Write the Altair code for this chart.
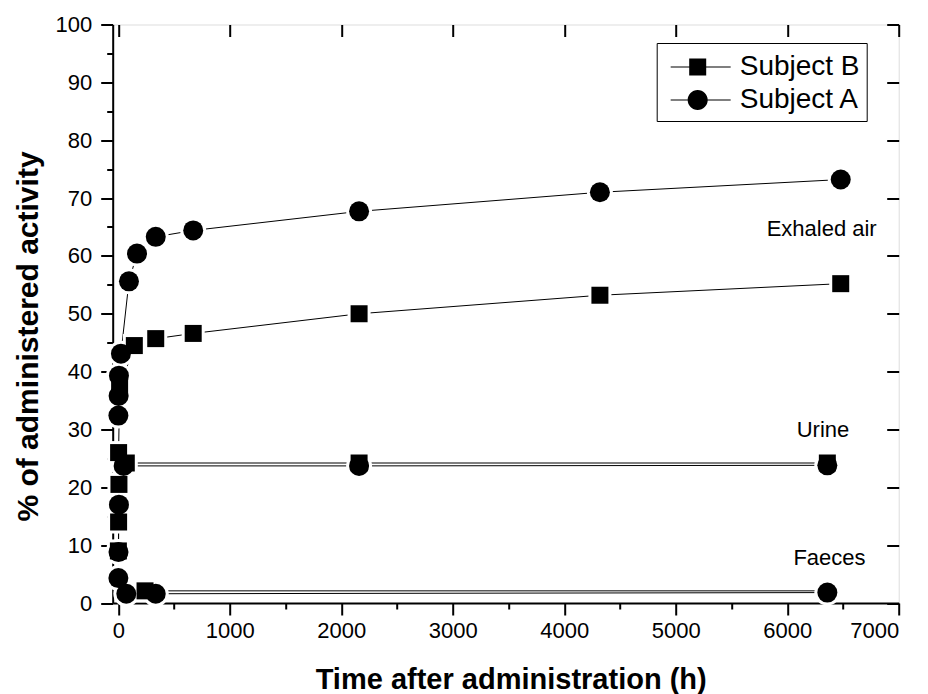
import altair as alt
import pandas as pd

# ---- data ----
subjects = ["Subject B", "Subject A"]

exh_A_t = [1, 3, 6, 24, 96, 168, 336, 672, 2160, 4320, 6480]
exh_A_v = [32.4, 35.8, 39.3, 43.1, 55.6, 60.4, 63.3, 64.4, 67.7, 71.0, 73.2]
exh_B_t = [3, 12, 144, 336, 672, 2160, 4320, 6480]
exh_B_v = [26.0, 37.2, 44.5, 45.7, 46.6, 50.0, 53.2, 55.2]

uri_A_t = [1, 2, 6, 48, 2160, 6360]
uri_A_v = [4.3, 8.8, 17.0, 23.7, 23.7, 23.8]
uri_B_t = [1, 3, 6, 72, 2160, 6360]
uri_B_v = [9.0, 14.0, 20.5, 24.2, 24.2, 24.2]

fae_A_t = [72, 336, 6360]
fae_A_v = [1.6, 1.6, 1.8]
fae_B_t = [240, 6360]
fae_B_v = [2.1, 2.1]
fae_B_marked = [True, False]   # last faeces point of B is hidden behind A's circle

ann_labels = ["Exhaled air", "Urine", "Faeces"]
ann_t = [6309, 6321, 6379]
ann_v = [63.4, 28.7, 6.6]

x_major = [0, 1000, 2000, 3000, 4000, 5000, 6000, 7000]
x_minor = [500, 1500, 2500, 3500, 4500, 5500, 6500]
y_major = list(range(0, 101, 10))
y_minor = list(range(5, 100, 10))

# ---- build tables ----
rows = []
def add(ts, vs, subj, comp, marked=None):
    if marked is None:
        marked = [True] * len(ts)
    for t, v, m in zip(ts, vs, marked):
        rows.append({"t": t, "v": v, "subject": subj, "comp": comp,
                     "series": subj + " " + comp, "marked": m})

add(exh_A_t, exh_A_v, "Subject A", "exhaled")
add(exh_B_t, exh_B_v, "Subject B", "exhaled")
add(uri_A_t, uri_A_v, "Subject A", "urine")
add(uri_B_t, uri_B_v, "Subject B", "urine")
add(fae_A_t, fae_A_v, "Subject A", "faeces")
add(fae_B_t, fae_B_v, "Subject B", "faeces", fae_B_marked)
df = pd.DataFrame(rows)
ann = pd.DataFrame({"label": ann_labels, "t": ann_t, "v": ann_v})

W, H = 786, 578.5
FONT = "Liberation Sans"

xs = alt.Scale(domain=[-50, 7000], nice=False, zero=False)
ys = alt.Scale(domain=[0, 100], nice=False, zero=False)
shape_scale = alt.Scale(domain=subjects, range=["square", "circle"])

common_axis = dict(grid=False, tickColor="black", tickWidth=2, domainColor="black",
                   domainWidth=2, labelColor="black", labelFont=FONT, labelFontSize=22,
                   titleFont=FONT, titleFontWeight="bold", titleColor="black")

x_main = alt.Axis(orient="bottom", values=x_major, tickSize=12, labelPadding=5,
                  format="d", title="Time after administration (h)", titleFontSize=29,
                  titleX=398, titleY=85, titleBaseline="alphabetic", titleAlign="center",
                  **common_axis)
y_main = alt.Axis(orient="left", values=y_major, tickSize=12, labelPadding=9,
                  format="d", title="% of administered activity", titleFontSize=30,
                  titleX=-75, titleY=311.5, titleBaseline="alphabetic", titleAlign="center",
                  titleAngle=270, **common_axis)

lines = alt.Chart(df).mark_line(color="black", strokeWidth=1).encode(
    x=alt.X("t:Q", scale=xs, axis=x_main),
    y=alt.Y("v:Q", scale=ys, axis=y_main),
    detail="series:N",
    order="t:Q",
)

halo = alt.Chart(df).transform_filter("datum.marked").mark_point(
    filled=True, color="white", opacity=1).encode(
    x=alt.X("t:Q", scale=xs, axis=None),
    y=alt.Y("v:Q", scale=ys, axis=None),
    shape=alt.Shape("subject:N", scale=shape_scale, legend=None),
    size=alt.Size("subject:N", scale=alt.Scale(domain=subjects, range=[529, 676]), legend=None),
)

points = alt.Chart(df).transform_filter("datum.marked").mark_point(
    filled=True, color="black", opacity=1).encode(
    x=alt.X("t:Q", scale=xs, axis=None),
    y=alt.Y("v:Q", scale=ys, axis=None),
    shape=alt.Shape("subject:N", scale=shape_scale, legend=None),
    size=alt.Size("subject:N", scale=alt.Scale(domain=subjects, range=[289, 400]), legend=None),
)

texts = alt.Chart(ann).mark_text(font=FONT, fontSize=22, color="black",
                                 align="center", baseline="alphabetic").encode(
    x=alt.X("t:Q", scale=xs, axis=None),
    y=alt.Y("v:Q", scale=ys, axis=None),
    text="label:N",
)

bar = "M-1.59,-0.035H-0.5V0.035H-1.59Z M0.5,-0.035H1.94V0.035H0.5Z"
sq_path = "M-0.5,-0.5H0.5V0.5H-0.5Z " + bar
ci_path = ("M-0.59,0A0.59,0.59,0,1,1,0.59,0A0.59,0.59,0,1,1,-0.59,0Z "
           "M-1.59,-0.035H-0.58V0.035H-1.59Z M0.58,-0.035H1.94V0.035H0.58Z")

legend_layer = alt.Chart(df).mark_point(filled=True, color="black", opacity=0).encode(
    x=alt.X("t:Q", scale=xs, axis=None),
    y=alt.Y("v:Q", scale=ys, axis=None),
    shape=alt.Shape("subject:N",
                    scale=alt.Scale(domain=subjects, range=[sq_path, ci_path]),
                    legend=alt.Legend(title=None, orient="none", legendX=544, legendY=18.5,
                                      symbolSize=1156, symbolFillColor="black",
                                      symbolStrokeColor="black", symbolStrokeWidth=0,
                                      symbolOpacity=1, symbolOffset=17, labelOffset=25,
                                      labelFont=FONT, labelFontSize=28, labelColor="black",
                                      labelLimit=400, padding=7, rowPadding=2,
                                      strokeColor="black", fillColor="white")),
)

minor_axes = alt.Chart(df).mark_point(opacity=0).encode(
    x=alt.X("t:Q", scale=xs, axis=alt.Axis(orient="bottom", values=x_minor, labels=False,
                                           domain=False, grid=False, tickSize=6, tickWidth=2,
                                           tickColor="black", title=None)),
    y=alt.Y("v:Q", scale=ys, axis=alt.Axis(orient="left", values=y_minor, labels=False,
                                           domain=False, grid=False, tickSize=6, tickWidth=2,
                                           tickColor="black", title=None)),
)

mirror_axes = alt.Chart(df).mark_point(opacity=0).encode(
    x=alt.X("t:Q", scale=xs, axis=alt.Axis(orient="bottom", offset=-H, values=x_major,
                                           labels=False, domain=False, grid=False,
                                           tickSize=12, tickWidth=2, tickColor="black",
                                           title=None)),
    y=alt.Y("v:Q", scale=ys, axis=alt.Axis(orient="left", offset=-W, values=y_major,
                                           labels=False, domain=False, grid=False,
                                           tickSize=12, tickWidth=2, tickColor="black",
                                           title=None)),
)

chart = alt.layer(
    lines, halo, points, texts, legend_layer, minor_axes, mirror_axes
).resolve_scale(
    shape="independent", size="independent"
).resolve_axis(
    x="independent", y="independent"
).properties(
    width=W, height=H,
    autosize=alt.AutoSizeParams(type="none"),
    padding={"left": 112.7, "top": 24.5, "right": 29.3, "bottom": 91},
).configure_view(
    stroke="black", strokeWidth=2
).configure(background="white")

chart.save("out.html", embed_options={"renderer": "svg", "actions": False})
